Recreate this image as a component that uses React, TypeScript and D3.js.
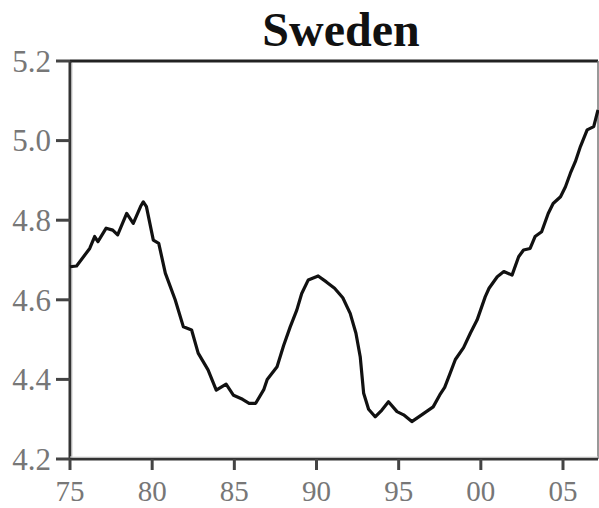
import React from "react";
import * as d3 from "d3";

const title = "Sweden";
const years = [
  1975.0, 1975.4, 1976.2, 1976.5, 1976.7, 1977.2, 1977.6, 1977.9, 1978.45, 1978.85,
  1979.3, 1979.46, 1979.65, 1980.07, 1980.4, 1980.8, 1981.4, 1981.9, 1982.4, 1982.8,
  1983.4, 1983.9, 1984.5, 1984.95, 1985.5, 1985.9, 1986.3, 1986.8, 1987.0, 1987.6,
  1988.0, 1988.4, 1988.8, 1989.1, 1989.5, 1990.1, 1990.6, 1991.1, 1991.6, 1992.05,
  1992.4, 1992.66, 1992.87, 1993.17, 1993.57, 1993.98, 1994.38, 1994.9, 1995.3, 1995.8,
  1996.4, 1997.1, 1997.5, 1997.8, 1998.1, 1998.45, 1998.95, 1999.36, 1999.77, 2000.27,
  2000.5, 2001.0, 2001.4, 2001.9, 2002.3, 2002.6, 2003.0, 2003.3, 2003.7, 2004.1,
  2004.4, 2004.85, 2005.15, 2005.45, 2005.75, 2006.06, 2006.47, 2006.87, 2007.13,
];
const values = [
  4.683, 4.685, 4.729, 4.759, 4.746, 4.780, 4.775, 4.763, 4.817, 4.792,
  4.835, 4.846, 4.834, 4.750, 4.742, 4.667, 4.600, 4.532, 4.524, 4.466,
  4.424, 4.373, 4.388, 4.360, 4.350, 4.340, 4.340, 4.375, 4.400, 4.432,
  4.485, 4.532, 4.574, 4.616, 4.650, 4.660, 4.645, 4.629, 4.605, 4.566,
  4.516, 4.457, 4.365, 4.325, 4.306, 4.323, 4.344, 4.319, 4.311, 4.294,
  4.311, 4.331, 4.361, 4.380, 4.412, 4.450, 4.480, 4.516, 4.549, 4.608,
  4.629, 4.658, 4.671, 4.662, 4.708, 4.725, 4.729, 4.759, 4.771, 4.817,
  4.842, 4.859, 4.884, 4.918, 4.947, 4.985, 5.027, 5.035, 5.077,
];
const xTicks = [1975, 1980, 1985, 1990, 1995, 2000, 2005];
const xTickLabels = ["75", "80", "85", "90", "95", "00", "05"];
const yTicks = [4.2, 4.4, 4.6, 4.8, 5.0, 5.2];
const yTickLabels = ["4.2", "4.4", "4.6", "4.8", "5.0", "5.2"];

export default function App() {
  const W = 599, H = 508;
  const left = 70, right = 598, top = 61, bottom = 459;
  const x = d3.scaleLinear().domain([1975, 2007.13]).range([left, right]);
  const y = d3.scaleLinear().domain([4.2, 5.2]).range([bottom, top]);
  const pts = years.map((yr, i) => [yr, values[i]] as [number, number]);
  const line = d3.line<[number, number]>().x(d => x(d[0])).y(d => y(d[1])).curve(d3.curveLinear);
  const font = "'Liberation Serif', 'Times New Roman', serif";
  return (
    <svg width={W} height={H} style={{ position: "absolute", left: 0, top: 0, background: "#fff" }}>
      <text x={341} y={46} textAnchor="middle" fontFamily={font} fontWeight="bold" fontSize={48} fill="#111">{title}</text>
      <line x1={left} x2={right} y1={top} y2={top} stroke="#222" strokeWidth={3} />
      <line x1={right} x2={right} y1={top} y2={bottom} stroke="#777" strokeWidth={1.5} />
      <line x1={left} x2={left} y1={top} y2={bottom + 1} stroke="#333" strokeWidth={3} />
      <line x1={left + 2} x2={left + 2} y1={top + 2} y2={bottom} stroke="#ccc" strokeWidth={1} />
      <line x1={left} x2={right} y1={bottom} y2={bottom} stroke="#333" strokeWidth={3} />
      <line x1={left} x2={right} y1={bottom - 2} y2={bottom - 2} stroke="#ddd" strokeWidth={1} />
      {yTicks.map((t, i) => (
        <g key={"y" + i}>
          <line x1={left - 14} x2={left} y1={y(t)} y2={y(t)} stroke="#444" strokeWidth={3} />
          <text x={51} y={y(t)} dy="0.35em" textAnchor="end" fontFamily={font} fontSize={31} fill="#777">{yTickLabels[i]}</text>
        </g>
      ))}
      {xTicks.map((t, i) => (
        <g key={"x" + i}>
          <line x1={x(t)} x2={x(t)} y1={bottom} y2={bottom + 11} stroke="#444" strokeWidth={3} />
          <text x={x(t)} y={501} textAnchor="middle" fontFamily={font} fontSize={29} fill="#777">{xTickLabels[i]}</text>
        </g>
      ))}
      <path d={line(pts) || ""} fill="none" stroke="#111" strokeWidth={3.2} strokeLinejoin="round" />
    </svg>
  );
}
